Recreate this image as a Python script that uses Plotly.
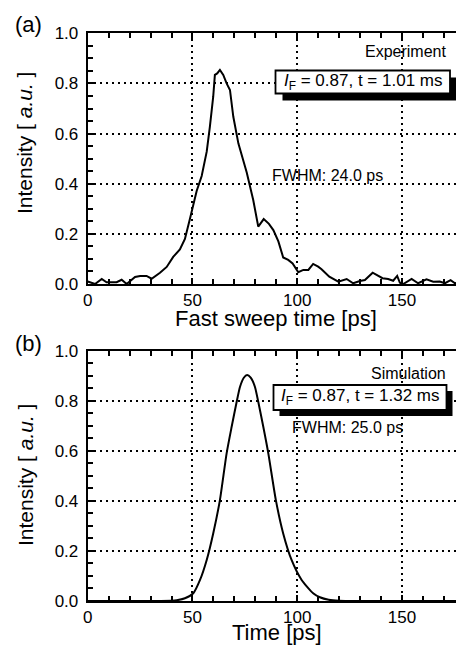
import plotly.graph_objects as go

# ---- data ----
exp_time = [0, 3.5, 6.7, 9, 13.8, 16.2, 18.6, 22.6, 25, 28.1, 30.5, 34.5, 37.7, 40.8, 44, 46.4,
            48.8, 50.4, 52, 54.4, 56.8, 58.3, 59.9, 60.7, 61.8, 63.1, 64.7, 66.3, 67.9, 69.5,
            71.9, 75.9, 79.0, 81.4, 84.0, 86.5, 88.6, 91.0, 93.3, 95.7, 97.8, 100.5, 102.9,
            105.3, 107.6, 110.0, 111.6, 115.3, 119.6, 123.6, 126.7, 129.9, 132.3, 136.0, 140.7,
            143.4, 145.8, 147.7, 149.0, 150.6, 154.6, 157.7, 161.7, 164.9, 168.0, 170.5, 173.2,
            175.3, 177.7, 179.0]
exp_intensity = [0.010, 0.0, 0.020, 0.007, 0.007, 0.017, 0.0, 0.028, 0.032, 0.032, 0.021, 0.045,
                 0.068, 0.108, 0.138, 0.180, 0.260, 0.320, 0.371, 0.431, 0.528, 0.627, 0.747,
                 0.834, 0.840, 0.854, 0.834, 0.800, 0.774, 0.667, 0.561, 0.445, 0.335, 0.229,
                 0.259, 0.240, 0.215, 0.170, 0.106, 0.096, 0.082, 0.047, 0.056, 0.056, 0.080,
                 0.069, 0.059, 0.029, 0.009, 0.020, 0.003, 0.012, 0.016, 0.045, 0.023, 0.020,
                 0.013, 0.032, 0.005, 0.0, 0.020, 0.003, 0.019, 0.009, 0.010, 0.003, 0.015,
                 0.003, 0.005, 0.008]

sim_time = [0, 20, 35, 42.5, 46.4, 50.4, 53.6, 56.8, 59.9, 63.1, 66.3, 68.7, 71.1, 72.7, 74.5,
            76.1, 77.8, 79.8, 81.4, 83.8, 86.2, 89.8, 93.3, 97.3, 102.1, 107.6, 110.8, 115,
            120, 130, 150, 180]
sim_intensity = [0, 0, 0, 0.003, 0.011, 0.031, 0.084, 0.164, 0.270, 0.403, 0.590, 0.696, 0.796,
                 0.856, 0.892, 0.903, 0.892, 0.856, 0.796, 0.696, 0.590, 0.403, 0.270, 0.164,
                 0.084, 0.031, 0.015, 0.005, 0.001, 0, 0, 0]

x_tick_vals = [0, 50, 100, 150]
y_tick_vals = [0.0, 0.2, 0.4, 0.6, 0.8, 1.0]

# ---- geometry helpers (window pixel -> paper); page body adds an 8px offset ----
OFF = 8
W, H = 464 - OFF, 645 - OFF
def px(x):
    return (x - OFF) / W
def py(y):
    return 1 - (y - OFF) / H

FONT = "Liberation Sans, Arial, Helvetica, sans-serif"

fig = go.Figure()
fig.add_trace(go.Scatter(x=exp_time, y=exp_intensity, mode="lines",
                         line=dict(color="black", width=2), xaxis="x", yaxis="y",
                         showlegend=False))
fig.add_trace(go.Scatter(x=sim_time, y=sim_intensity, mode="lines",
                         line=dict(color="black", width=2, shape="spline", smoothing=0.6),
                         xaxis="x2", yaxis="y2", showlegend=False))

x_range = [0, (462 - 87.7) / 2.0953]

def xaxis_cfg(anchor):
    return dict(domain=[px(87.7), px(462)], range=x_range, anchor=anchor,
                tickvals=x_tick_vals, ticktext=[str(v) for v in x_tick_vals],
                ticks="inside", ticklen=6, tickwidth=1.5, tickcolor="black",
                showline=True, linewidth=2, linecolor="black", mirror="ticks",
                showgrid=True, gridcolor="black", gridwidth=1.5, griddash="2px,4px",
                zeroline=False, tickfont=dict(family=FONT, size=17, color="black"),
                minor=dict(dtick=10, tick0=0, ticks="inside", ticklen=5, tickwidth=1.5,
                           tickcolor="black", showgrid=False),
                fixedrange=True)

def yaxis_cfg(anchor, top, bottom):
    return dict(domain=[py(bottom), py(top)], range=[0, 1], anchor=anchor,
                tickvals=y_tick_vals, ticktext=[f"{v:.1f}" for v in y_tick_vals],
                ticks="inside", ticklen=6, tickwidth=1.5, tickcolor="black",
                showline=True, linewidth=2, linecolor="black", mirror="ticks",
                showgrid=True, gridcolor="black", gridwidth=1.5, griddash="2px,4px",
                zeroline=False, tickfont=dict(family=FONT, size=17, color="black"),
                ticklabelstandoff=4,
                minor=dict(dtick=0.05, tick0=0, ticks="inside", ticklen=5, tickwidth=1.5,
                           tickcolor="black", showgrid=False),
                fixedrange=True)

annotations = []
def txt(x, y, text, size, xanchor="center", yanchor="middle", angle=0):
    annotations.append(dict(x=px(x), y=py(y), xref="paper", yref="paper", text=text,
                            showarrow=False, xanchor=xanchor, yanchor=yanchor,
                            textangle=angle, font=dict(family=FONT, size=size, color="black")))

shapes = []
def box(x0, y0, x1, y1, off):
    shapes.append(dict(type="rect", xref="paper", yref="paper",
                       x0=px(x0 + off), x1=px(x1 + off), y0=py(y1 + off), y1=py(y0 + off),
                       fillcolor="black", line=dict(width=0)))
    shapes.append(dict(type="rect", xref="paper", yref="paper",
                       x0=px(x0), x1=px(x1), y0=py(y1), y1=py(y0),
                       fillcolor="white", line=dict(color="black", width=1.8)))

# panel (a)
txt(28, 24, "(a)", 22)
txt(448, 51, "Experiment", 16, xanchor="right")
box(275.5, 70.5, 450, 93.5, 7)
txt(362.5, 82, "<i>I</i><sub>F</sub> = 0.87, t = 1.01 ms", 17)
txt(327, 175, "FWHM: 24.0 ps", 16)
txt(276, 318, "Fast sweep time [ps]", 22)
txt(25, 143, "Intensity [ <i>a.u.</i> ]", 21, angle=-90)

# panel (b)
txt(28, 343, "(b)", 22)
txt(448, 373, "Simulation", 16, xanchor="right")
box(273.5, 385, 446.5, 410, 6)
txt(360, 397.5, "<i>I</i><sub>F</sub> = 0.87, t = 1.32 ms", 17)
txt(347, 427, "FWHM: 25.0 ps", 16)
txt(277, 632, "Time [ps]", 22)
txt(25, 475, "Intensity [ <i>a.u.</i> ]", 21, angle=-90)

fig.update_layout(
    width=W, height=H,
    margin=dict(l=0, r=0, t=0, b=0, autoexpand=False),
    paper_bgcolor="white", plot_bgcolor="white",
    xaxis=xaxis_cfg("y"),
    yaxis=yaxis_cfg("x", 33.3, 284),
    xaxis2=xaxis_cfg("y2"),
    yaxis2=yaxis_cfg("x2", 350.7, 601),
    annotations=annotations,
    shapes=shapes,
    font=dict(family=FONT, color="black"),
)

fig.write_html("out.html")
